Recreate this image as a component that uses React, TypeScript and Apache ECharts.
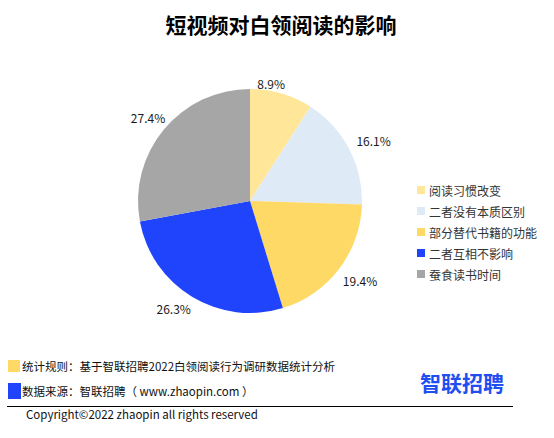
import React, { useEffect, useRef } from "react";
import * as echarts from "echarts";

const categories = ["阅读习惯改变", "二者没有本质区别", "部分替代书籍的功能", "二者互相不影响", "蚕食读书时间"];
const values = [8.9, 16.1, 19.4, 26.3, 27.4];
const colors = ["#FFE699", "#DEEBF7", "#FFD966", "#1F44FC", "#A6A6A6"];
const title = "短视频对白领阅读的影响";
const noteRule = "统计规则：基于智联招聘2022白领阅读行为调研数据统计分析";
const noteSource = "数据来源：智联招聘（ www.zhaopin.com ）";
const copyright = "Copyright©2022 zhaopin all rights reserved";
const logoText = "智联招聘";

const FONT = "'Noto Sans CJK SC', 'Noto Sans', sans-serif";

export default function App() {
  const ref = useRef<HTMLDivElement>(null);
  useEffect(() => {
    if (!ref.current) return;
    const chart = echarts.init(ref.current, null, { renderer: "svg" });
    const cx = 250;
    const cy = 201;
    const R = 112;
    const labelR = 118;
    const total = values.reduce((a, b) => a + b, 0);
    const mids: number[] = [];
    let acc = 0;
    values.forEach((v) => {
      mids.push(((90 - ((acc + v / 2) / total) * 360) * Math.PI) / 180);
      acc += v;
    });
    // small nudges mimicking the original's best-fit label placement
    const nudge: Array<[number, number]> = [[-12, 2], [2, 1], [-1, 2], [2, 1], [6, -2]];
    chart.setOption({
      animation: false,
      backgroundColor: "#ffffff",
      textStyle: { fontFamily: FONT },
      title: {
        text: title,
        left: 276,
        textAlign: "center",
        top: 8,
        textStyle: { fontSize: 21, fontWeight: "bold", color: "#000", fontFamily: FONT },
      },
      legend: {
        orient: "vertical",
        left: 417,
        top: 184,
        padding: 0,
        itemWidth: 8,
        itemHeight: 8,
        itemGap: 9,
        icon: "rect",
        data: categories,
        textStyle: { fontSize: 12, color: "#333", fontFamily: FONT, padding: [0, 0, 0, -1] },
      },
      series: [
        {
          type: "pie",
          center: [cx, cy],
          radius: [0, R],
          startAngle: 90,
          clockwise: true,
          data: categories.map((c, i) => ({ name: c, value: values[i], itemStyle: { color: colors[i] } })),
          label: {
            show: true,
            position: "outside",
            formatter: (p: any) => p.value.toFixed(1) + "%",
            fontSize: 12,
            color: "#1a1a1a",
            fontFamily: FONT,
          },
          labelLine: { show: false, length: 6, length2: 0 },
          labelLayout: (p: any) => {
            const i = p.dataIndex;
            const a = mids[i];
            const c = Math.cos(a);
            const s = Math.sin(a);
            const ax = cx + labelR * c;
            const ay = cy - labelR * s;
            const align = Math.abs(c) < 0.35 ? "center" : c > 0 ? "left" : "right";
            const verticalAlign = s > 0 ? "bottom" : "top";
            return { x: ax + nudge[i][0], y: ay + nudge[i][1], align, verticalAlign };
          },
          itemStyle: { borderWidth: 0 },
          emphasis: { disabled: true },
        },
      ],
      graphic: [
        { type: "rect", shape: { x: 8, y: 360, width: 12, height: 12 }, style: { fill: colors[2] } },
        { type: "text", x: 22, y: 366, style: { text: noteRule, font: `11.5px ${FONT}`, fill: "#111", verticalAlign: "middle" } },
        { type: "rect", shape: { x: 8, y: 383, width: 13, height: 16 }, style: { fill: colors[3] } },
        { type: "text", x: 22, y: 391, style: { text: noteSource, font: `11.5px ${FONT}`, fill: "#111", verticalAlign: "middle" } },
        { type: "text", x: 420, y: 382, style: { text: logoText, font: `bold 21px ${FONT}`, fill: "#1F4FF0", verticalAlign: "middle" } },
        { type: "line", shape: { x1: 7, y1: 406.5, x2: 513, y2: 406.5 }, style: { stroke: "#000", lineWidth: 1 } },
        { type: "text", x: 26, y: 414, style: { text: copyright, font: `11.5px ${FONT}`, fill: "#111", verticalAlign: "middle" } },
      ],
    });
    return () => chart.dispose();
  }, []);
  return <div ref={ref} style={{ position: "fixed", left: 0, top: 0, width: 554, height: 438 }} />;
}
